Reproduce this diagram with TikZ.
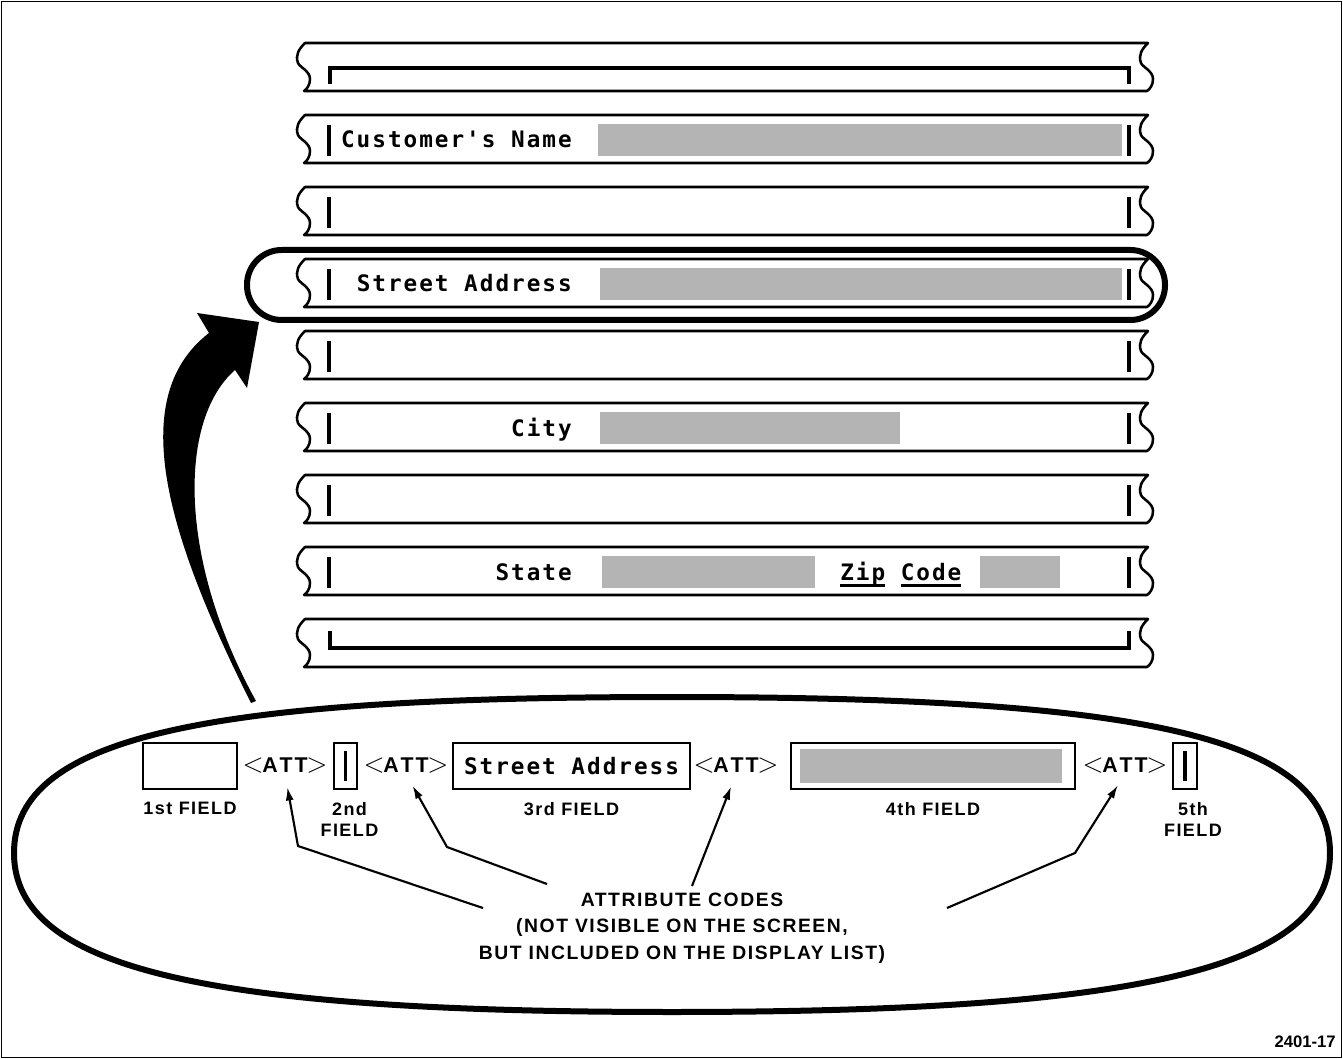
\documentclass[tikz,border=0pt]{standalone}
\usepackage{fontspec}
\setmainfont{Liberation Sans}
\newfontfamily\crtfont[LetterSpace=8.8]{DejaVu Sans Mono}
\newfontfamily\capfont[LetterSpace=8]{Liberation Sans}
\usepackage{tikz}
\usetikzlibrary{arrows.meta,positioning}
\definecolor{screengray}{RGB}{180,180,180}

\newcommand{\attcode}{{\huge$<$}\kern-1pt{\fontsize{16}{16}\selectfont\bfseries A\kern1.5pt T\kern1.5pt T}\kern-1pt{\huge$>$}}
\newcommand{\thickul}[1]{\setbox0\hbox{#1}\rlap{\raisebox{-5pt}{\rule{\wd0}{1.8pt}}}\box0\relax}

\begin{document}
\begin{tikzpicture}[x=0.75pt,y=-0.75pt,
    strip/.style={line width=1.9pt,line join=round},
    marker/.style={line width=3.2pt},
    ring/.style={line width=4.5pt},
    screen/.style={font=\crtfont\bfseries\fontsize{17}{20}\selectfont,inner sep=0pt},
    fieldbox/.style={draw,line width=1.4pt,minimum height=34.5pt,inner sep=0pt},
    fieldlabel/.style={font=\capfont\bfseries\fontsize{13.5}{16}\selectfont,align=center,inner sep=0pt},
    att/.style={inner sep=0pt},
    attarrow/.style={line width=1.6pt,-{Latex[length=10pt,width=6pt]},shorten >=10pt}]
    \useasboundingbox (0,0) rectangle (1343,1059);
    \draw[line width=1.1pt] (1.5,1.5) rectangle (1341.5,1057.5);

    % Screen strips with torn edges
    \foreach \t in {43,115,...,619}
        \draw[strip,shift={(0,\t)}] (305,0) -- (1148,0)
            .. controls (1142,6) and (1138,12) .. (1141,20)
            .. controls (1142.5,24) and (1153,28) .. (1153,36)
            .. controls (1153,42) and (1150,46) .. (1147,48) -- (304,48)
            .. controls (307,46) and (310,42) .. (310,36)
            .. controls (310,28) and (299.5,24) .. (298,20)
            .. controls (295,12) and (299,6) .. (305,0) -- cycle;

    % Field markers
    \foreach \t in {115,187,...,547} {
        \draw[marker] (329,\t+10) -- (329,\t+41);
        \draw[marker] (1129,\t+10) -- (1129,\t+41);
    }
    \draw[marker] (330,84) -- (330,68) -- (1129,68) -- (1129,84);
    \draw[marker] (330,631) -- (330,648) -- (1129,648) -- (1129,631);

    % Form texts and entry areas
    \fill[screengray] (598,124) rectangle (1122,156);
    \fill[screengray] (600,268) rectangle (1122,300);
    \fill[screengray] (600,412) rectangle (900,444);
    \fill[screengray] (602,556) rectangle (815,588);
    \fill[screengray] (980,556) rectangle (1060,588);
    \node[screen,anchor=base east] (custname) at (572,148) {Customer's Name};
    \node[screen,anchor=base east] (street) at (572,292) {Street Address};
    \node[screen,anchor=base east] (city) at (572,436) {City};
    \node[screen,anchor=base east] (state) at (572,580) {State};
    \node[screen,anchor=base west] (zip) at (840,580) {\thickul{Zip} \thickul{Code}};

    % Highlighted line
    \draw[ring,rounded corners=26pt] (247,250) rectangle (1165,320);

    % Big arrow
    \fill (251,703) .. controls (172,545) and (122,400) .. (209,333) -- (197,313)
        -- (259,322) -- (247,388) -- (235,370)
        .. controls (178,420) and (178,560) .. (256,701) -- cycle;

    % Display list
    \draw[ring] (672,697) .. controls (1133,697) and (1330,735) .. (1330,853)
        .. controls (1330,970) and (1133,1012) .. (672,1012)
        .. controls (211,1012) and (14,970) .. (14,853)
        .. controls (14,735) and (211,697) .. (672,697) -- cycle;

    \node[fieldbox,minimum width=70.5pt] (f1) at (190,766) {};
    \node[att] (att1) at (285,766) {\attcode};
    \node[fieldbox,minimum width=17.25pt] (f2) at (345.5,766) {\rule{2.4pt}{22pt}};
    \node[att] (att2) at (406,766) {\attcode};
    \node[fieldbox,screen,minimum width=177.75pt] (f3) at (571.5,766) {Street Address};
    \node[att] (att3) at (736,766) {\attcode};
    \node[fieldbox,minimum width=213pt] (f4) at (933,766) {};
    \node[fill=screengray,minimum width=197pt,minimum height=25pt,inner sep=0pt] (f4gray) at (931,766) {};
    \node[att] (att4) at (1125,766) {\attcode};
    \node[fieldbox,minimum width=18pt] (f5) at (1185,766) {\rule{2.4pt}{22pt}};

    \node[fieldlabel,below=9pt of f1] (l1) {1st FIELD};
    \node[fieldlabel,below=9pt of f2,xshift=3pt] (l2) {2nd\\FIELD};
    \node[fieldlabel,below=9pt of f3] (l3) {3rd FIELD};
    \node[fieldlabel,below=9pt of f4] (l4) {4th FIELD};
    \node[fieldlabel,below=9pt of f5,xshift=6pt] (l5) {5th\\FIELD};

    % Attribute codes
    \node[font=\capfont\bfseries\fontsize{14.5}{20}\selectfont,align=center,inner sep=0pt] (codes) at (682,928)
        {ATTRIBUTE CODES\\(NOT VISIBLE ON THE SCREEN,\\BUT INCLUDED ON THE DISPLAY LIST)};
    \coordinate (s1) at (483,908);
    \coordinate (b1) at (298,846);
    \coordinate (s2) at (547,884);
    \coordinate (b2) at (447,847);
    \coordinate (s3) at (692,886);
    \coordinate (s4) at (947,908);
    \coordinate (b4) at (1075,853);
    \draw[attarrow] (s1) -- (b1) -- (att1.south);
    \draw[attarrow] (s2) -- (b2) -- (att2.south);
    \draw[attarrow] (s3) -- (att3.south);
    \draw[attarrow] (s4) -- (b4) -- (att4.south);

    \node[font=\bfseries\fontsize{12.5}{14}\selectfont,anchor=base east,inner sep=0pt] (figno) at (1336,1047) {2401-17};
\end{tikzpicture}
\end{document}
